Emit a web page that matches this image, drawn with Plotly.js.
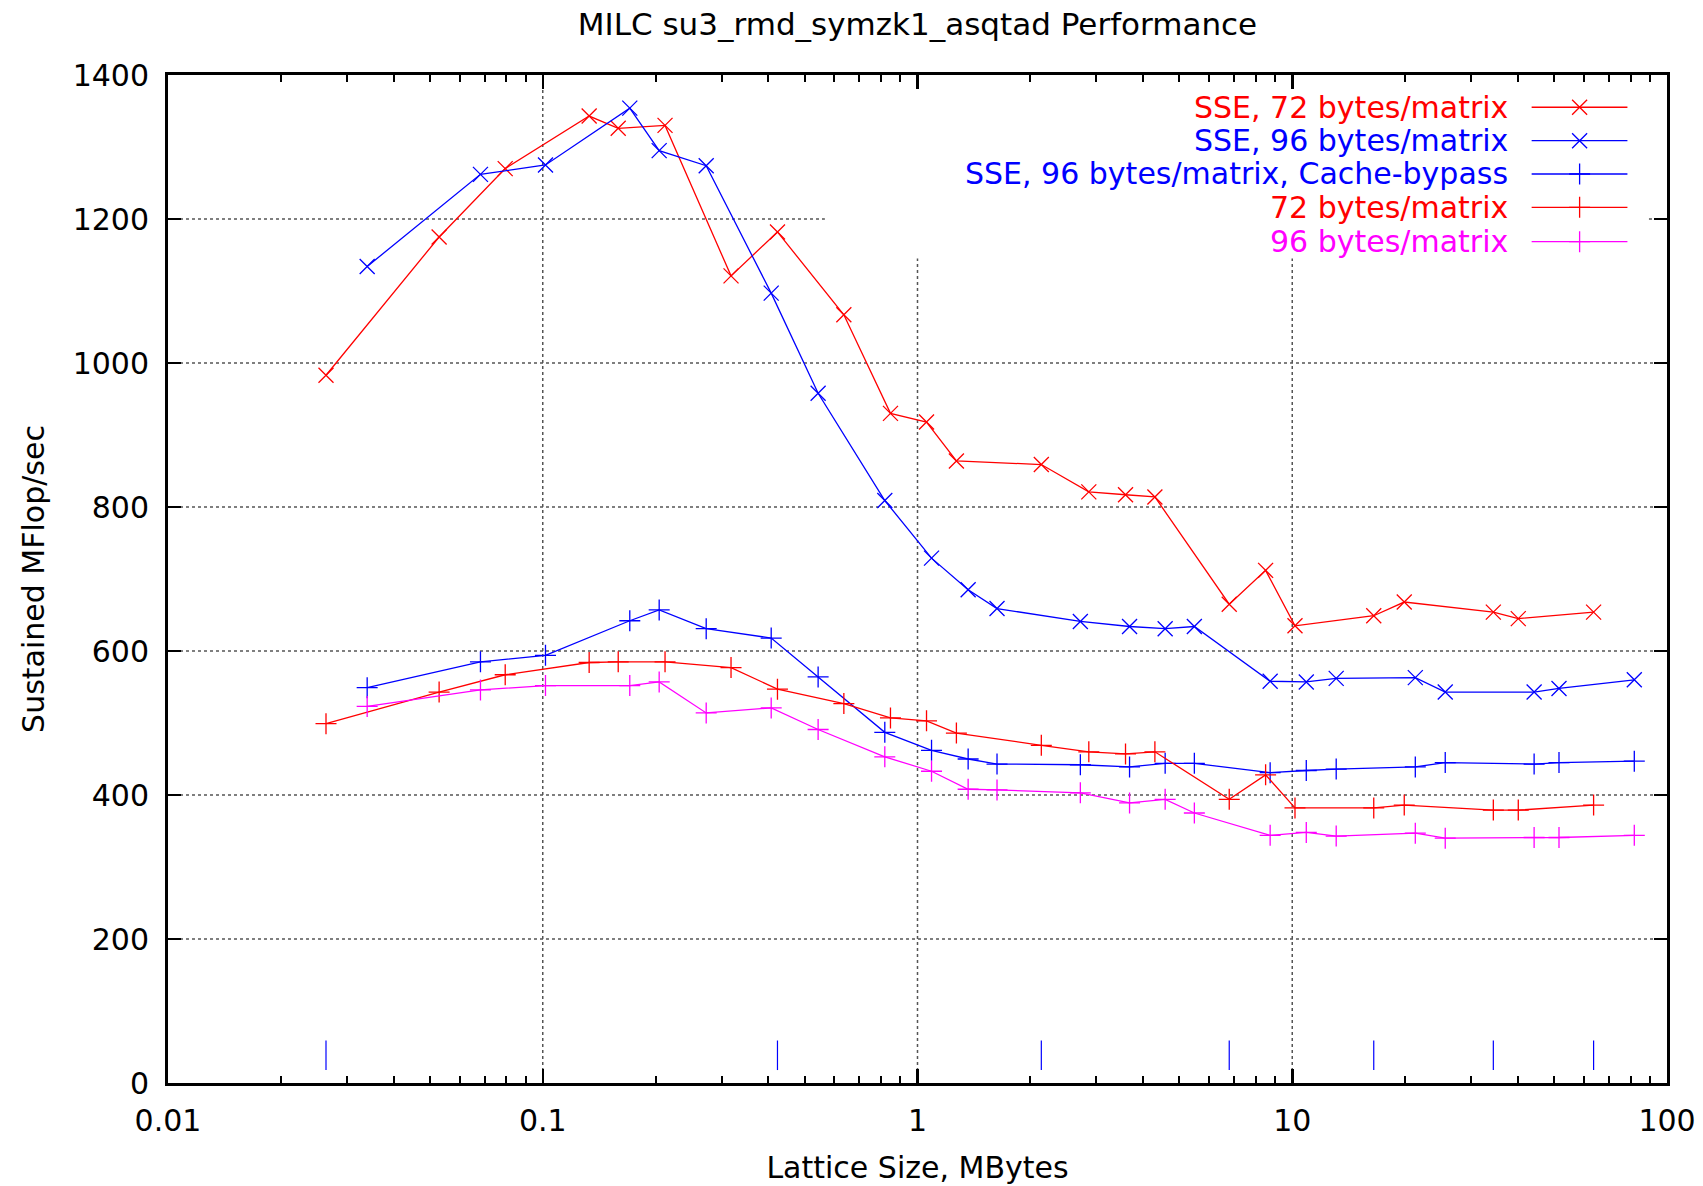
<!DOCTYPE html>
<html>
<head>
<meta charset="utf-8">
<script src="https://cdn.plot.ly/plotly-3.0.1.min.js"></script>
<style>html,body{margin:0;padding:0;background:#fff;}#chart{width:1703px;height:1186px;}</style>
</head>
<body>
<div id="chart"></div>
<script>
// ---- Data ----
// Lattice sizes (MBytes) for 72-byte matrices
var x72 = [0.0264, 0.0529, 0.0794, 0.133, 0.159, 0.212, 0.318, 0.423, 0.636, 0.847, 1.057, 1.27,
           2.14, 2.865, 3.59, 4.30, 6.79, 8.49, 10.17, 16.5, 19.9, 34.4, 40.1, 63.7];
// Lattice sizes (MBytes) for 96-byte matrices
var x96 = [0.034, 0.0682, 0.1017, 0.1707, 0.2045, 0.273, 0.407, 0.543, 0.818, 1.09, 1.365, 1.63,
           2.72, 3.68, 4.58, 5.48, 8.73, 10.9, 13.1, 21.3, 25.6, 44.2, 51.5, 81.8];

var sse72 = [983, 1175, 1270, 1343, 1326, 1330, 1121, 1182, 1067, 930, 918, 864,
             859, 821, 817, 814, 665, 712, 635, 649, 668, 654, 645, 654];
var sse96 = [1134, 1262, 1275, 1354, 1295, 1274, 1097, 958, 809, 729, 685, 659,
             641, 634, 631, 634, 558, 557, 562, 563, 543, 543, 548, 560];
var sse96bypass = [549, 585, 594, 642, 657, 631, 618, 564, 487, 462, 450, 443,
                   442, 439, 444, 444, 431, 434, 436, 439, 445, 443, 445, 447];
var plain72 = [499, 543, 567, 584, 585, 585, 577, 547, 527, 507, 503, 486,
               469, 460, 457, 460, 394, 428, 382, 382, 386, 379, 379, 386];
var plain96 = [523, 546, 552, 552, 557, 514, 521, 491, 453, 433, 408, 407,
               403, 389, 394, 375, 344, 348, 343, 347, 340, 341, 341, 344];

// short vertical blue marks near the bottom of the plot
var markX = [0.0264, 0.423, 2.14, 6.79, 16.5, 34.4, 63.7];
var markLow = 18;
var markHigh = 59;

var seriesNames = ["SSE, 72 bytes/matrix", "SSE, 96 bytes/matrix",
                   "SSE, 96 bytes/matrix, Cache-bypass", "72 bytes/matrix", "96 bytes/matrix"];

var xTickVals = [0.01, 0.1, 1, 10, 100];
var xTickText = ["0.01", "0.1", "1", "10", "100"];
var yTickVals = [0, 200, 400, 600, 800, 1000, 1200, 1400];

// ---- Styles ----
var RED = "#ff0000", BLUE = "#0000ff", MAG = "#ff00ff";
var FONT = "DejaVu Sans, Liberation Sans, Arial, sans-serif";
var seriesX = [x72, x96, x96, x72, x96];
var seriesY = [sse72, sse96, sse96bypass, plain72, plain96];
var seriesColor = [RED, BLUE, BLUE, RED, MAG];
var seriesSymbol = ["x-thin", "x-thin", "cross-thin", "cross-thin", "cross-thin"];

var X_MIN = 0.01, X_MAX = 100, Y_MIN = 0, Y_MAX = 1400;
// area covered by the key (grid is hidden behind it, as gnuplot does)
var KEY_X0 = 0.566, KEY_X1 = 89.5, KEY_Y0 = 1145;

var traces = [];
for (var i = 0; i < seriesNames.length; i++) {
  traces.push({
    type: "scatter", mode: "lines+markers", name: seriesNames[i],
    x: seriesX[i], y: seriesY[i],
    line: {color: seriesColor[i], width: 1.3},
    marker: {symbol: seriesSymbol[i], size: 15, color: seriesColor[i],
             line: {color: seriesColor[i], width: 1.3}},
    showlegend: false, hoverinfo: "x+y+name"
  });
}

// bottom marks built from markX
var mx = [], my = [];
markX.forEach(function (v) { mx.push(v, v, null); my.push(markLow, markHigh, null); });
traces.push({type: "scatter", mode: "lines", x: mx, y: my, connectgaps: false,
             line: {color: BLUE, width: 1.2}, showlegend: false, hoverinfo: "skip"});

var annotations = [], shapes = [];

// ---- dotted grid drawn from the tick values, clipped around the key ----
var gridLine = {color: "#555555", width: 1.5, dash: "dot"};
yTickVals.forEach(function (v) {
  if (v === Y_MIN || v === Y_MAX) return;
  if (v > KEY_Y0) {
    shapes.push({type: "line", xref: "x", yref: "y", x0: X_MIN, x1: KEY_X0, y0: v, y1: v, line: gridLine, layer: "below"});
    shapes.push({type: "line", xref: "x", yref: "y", x0: KEY_X1, x1: X_MAX, y0: v, y1: v, line: gridLine, layer: "below"});
  } else {
    shapes.push({type: "line", xref: "x", yref: "y", x0: X_MIN, x1: X_MAX, y0: v, y1: v, line: gridLine, layer: "below"});
  }
});
xTickVals.forEach(function (v) {
  if (v === X_MIN || v === X_MAX) return;
  var top = (v > KEY_X0 && v < KEY_X1) ? KEY_Y0 : Y_MAX;
  shapes.push({type: "line", xref: "x", yref: "y", x0: v, x1: v, y0: Y_MIN, y1: top, line: gridLine, layer: "below"});
});

// ---- Custom gnuplot-style legend (text right, sample on the right) ----
var legTextX = 0.895, legLineX0 = 0.9097, legLineX1 = 0.9736, legMarkX = 0.9417;
var legRowY = [0.968, 0.9348, 0.9018, 0.8687, 0.8346];
var lmx = [], lmy = [], lms = [], lmc = [];
for (var k = 0; k < seriesNames.length; k++) {
  annotations.push({xref: "paper", yref: "paper", x: legTextX, y: legRowY[k],
    xanchor: "right", yanchor: "middle", showarrow: false, text: seriesNames[k],
    font: {family: FONT, size: 30, color: seriesColor[k]}});
  shapes.push({type: "line", xref: "paper", yref: "paper", x0: legLineX0, x1: legLineX1,
    y0: legRowY[k], y1: legRowY[k], line: {color: seriesColor[k], width: 1.3}, layer: "above"});
  lmx.push(legMarkX); lmy.push(legRowY[k]); lms.push(seriesSymbol[k]); lmc.push(seriesColor[k]);
}
traces.push({type: "scatter", mode: "markers", x: lmx, y: lmy, xaxis: "x2", yaxis: "y2",
  marker: {symbol: lms, size: 15, color: lmc, line: {color: lmc, width: 1.3}},
  showlegend: false, hoverinfo: "skip"});

// minor log ticks 2..9 in each decade
var minorVals = [];
[0.01, 0.1, 1, 10].forEach(function (d) { for (var m = 2; m <= 9; m++) minorVals.push(d * m); });

var layout = {
  width: 1703, height: 1186,
  margin: {l: 168, r: 36, t: 75, b: 103},
  paper_bgcolor: "#ffffff", plot_bgcolor: "#ffffff",
  font: {family: FONT, size: 30, color: "#000000"},
  showlegend: false,
  title: {text: "MILC su3_rmd_symzk1_asqtad Performance", font: {family: FONT, size: 31, color: "#000"},
          x: 0.5, xref: "paper", xanchor: "center", y: 1 - 24 / 1186, yref: "container", yanchor: "middle"},
  xaxis: {
    type: "log", range: [Math.log10(X_MIN), Math.log10(X_MAX)],
    tickmode: "array", tickvals: xTickVals, ticktext: xTickText,
    ticks: "inside", ticklen: 14, tickwidth: 2.5, tickcolor: "#000",
    showline: true, linewidth: 3, linecolor: "#000", mirror: "allticks",
    showgrid: false, zeroline: false, ticklabelstandoff: 9,
    tickfont: {family: FONT, size: 30, color: "#000"},
    minor: {tickmode: "array", tickvals: minorVals, ticks: "inside", ticklen: 7, tickwidth: 2,
            tickcolor: "#000", showgrid: false},
    title: {text: "Lattice Size, MBytes", font: {family: FONT, size: 30, color: "#000"}, standoff: 20}
  },
  yaxis: {
    range: [Y_MIN, Y_MAX], tickmode: "array", tickvals: yTickVals,
    ticks: "inside", ticklen: 13, tickwidth: 2.5, tickcolor: "#000",
    showline: true, linewidth: 3, linecolor: "#000", mirror: "allticks",
    showgrid: false, zeroline: false, ticklabelstandoff: 10,
    tickfont: {family: FONT, size: 30, color: "#000"},
    title: {text: "Sustained MFlop/sec", font: {family: FONT, size: 30, color: "#000"}, standoff: 20}
  },
  xaxis2: {overlaying: "x", range: [0, 1], visible: false, fixedrange: true},
  yaxis2: {overlaying: "y", range: [0, 1], visible: false, fixedrange: true},
  annotations: annotations,
  shapes: shapes
};

Plotly.newPlot("chart", traces, layout, {displayModeBar: false, staticPlot: true});
</script>
</body>
</html>
